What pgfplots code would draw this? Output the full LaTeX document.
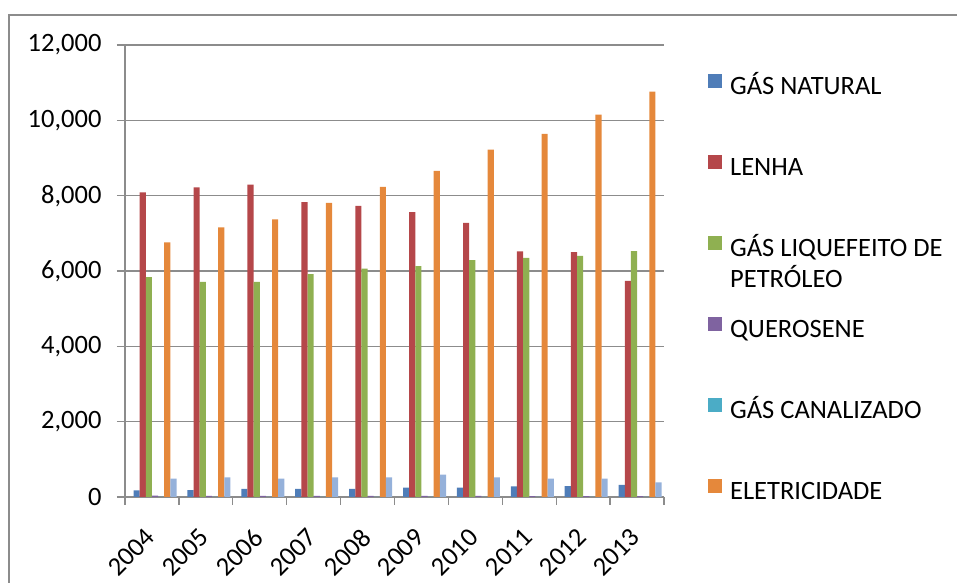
\documentclass[border=0pt]{standalone}
\usepackage{pgfplots}
\pgfplotsset{compat=1.18}
\usepackage{fontspec}
\setmainfont{Carlito}
\newcommand\cf{\fontsize{26.5bp}{31bp}\selectfont}
\definecolor{cGN}{HTML}{4F7DB8}
\definecolor{cLE}{HTML}{B5474A}
\definecolor{cGLP}{HTML}{8FB051}
\definecolor{cQU}{HTML}{7F63A0}
\definecolor{cGC}{HTML}{4BACC6}
\definecolor{cEL}{HTML}{E5883B}
\definecolor{cOU}{HTML}{95B1DA}
\definecolor{cAx}{HTML}{8C8C8C}
\pgfplotstableread{
x GN LE GLP QU GC EL OU
0 177 8090 5840 35 5 6760 487
1 180 8220 5710 33 5 7160 523
2 213 8290 5710 32 5 7370 487
3 215 7830 5920 30 5 7810 523
4 218 7730 6060 30 5 8230 523
5 248 7560 6130 28 5 8660 594
6 250 7280 6290 27 5 9220 523
7 284 6520 6350 26 5 9640 487
8 287 6500 6400 25 5 10150 487
9 319 5740 6530 24 5 10760 390
}\data
\begin{document}
\begin{tikzpicture}[x=1bp,y=1bp]
\useasboundingbox (-125,-86) rectangle (832,497);
\draw[cAx, line width=2bp] (-116,-95) -- (-116,482) -- (840,482);
\begin{axis}[
  at={(0,0)}, anchor=south west,
  scale only axis, width=539bp, height=452bp,
  ybar=0pt, bar width=0.114,
  xmin=-0.5, xmax=9.5, ymin=0, ymax=12000,
  axis x line*=bottom, axis y line*=left,
  axis line style={cAx, line width=1.3bp, -},
  ytick={0,2000,...,12000},
  ymajorgrids, grid style={cAx, line width=1.3bp},
  xtick={0,...,9},
  xticklabels={2004,2005,2006,2007,2008,2009,2010,2011,2012,2013},
  minor xtick={-0.5,0.5,...,9.5},
  tick align=outside,
  major tick length=8bp, minor tick length=8bp,
  x tick style={draw=none},
  minor x tick style={draw=cAx, line width=1.3bp},
  y tick style={draw=cAx, line width=1.3bp},
  tick label style={font=\cf},
  /pgf/number format/.cd, 1000 sep={,}, assume math mode=true,
  /pgfplots/.cd,
  scaled y ticks=false,
  yticklabel style={xshift=-12bp},
  xticklabel style={rotate=45, anchor=north east, inner sep=0pt, xshift=-21bp, yshift=-10bp},
  legend cell align=left,
  legend image code/.code={\fill[#1, draw=none] (0bp,1bp) rectangle (14bp,15bp);},
  legend style={draw=none, fill=none, font=\cf, at={(1.076,0.9416)}, anchor=north west,
     row sep=55bp, column sep=8bp,
     nodes={inner sep=0pt, text height=17bp, text depth=5bp}},
]
\addplot[fill=cGN, draw=none] table[x=x,y=GN]{\data};
\addlegendentry{GÁS NATURAL}
\addplot[fill=cLE, draw=none] table[x=x,y=LE]{\data};
\addlegendentry{LENHA}
\addplot[fill=cGLP, draw=none] table[x=x,y=GLP]{\data};
\addlegendentry{\smash{\parbox[t]{240bp}{GÁS LIQUEFEITO DE\\PETRÓLEO}}}
\addplot[fill=cQU, draw=none] table[x=x,y=QU]{\data};
\addlegendentry{QUEROSENE}
\addplot[fill=cGC, draw=none] table[x=x,y=GC]{\data};
\addlegendentry{GÁS CANALIZADO}
\addplot[fill=cEL, draw=none] table[x=x,y=EL]{\data};
\addlegendentry{ELETRICIDADE}
\addplot[fill=cOU, draw=none, forget plot] table[x=x,y=OU]{\data};
\end{axis}
\end{tikzpicture}
\end{document}
